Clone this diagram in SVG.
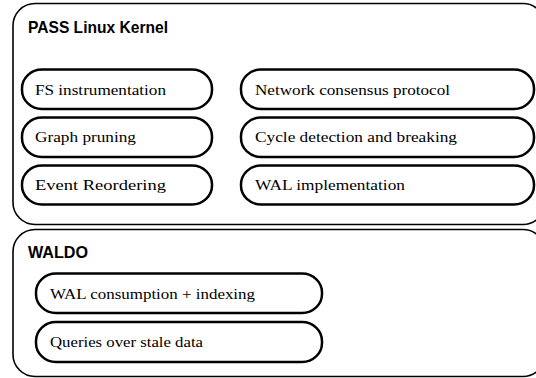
<svg xmlns="http://www.w3.org/2000/svg" width="536" height="378" viewBox="0 0 536 378">
<style>
.box{fill:#fff;stroke:#000;stroke-width:1.6}
.pill{fill:#fff;stroke:#000;stroke-width:2.5}
.title{font-family:"Liberation Sans",Arial,sans-serif;font-weight:bold;font-size:17px;fill:#000}
.lbl{font-family:"Liberation Serif","Times New Roman",serif;font-size:15px;fill:#000}
</style>
<rect width="536" height="378" fill="#fff"/>
<g id="kernel">
<rect class="box" x="13" y="3.5" width="532" height="221" rx="22" ry="22"/>
<text class="title" x="28" y="32.5" textLength="140" lengthAdjust="spacingAndGlyphs">PASS Linux Kernel</text>
</g>
<g id="fs-instrumentation">
<rect class="pill" x="22" y="69.5" width="190" height="39.5" rx="20" ry="19"/>
<text class="lbl" x="35" y="95" textLength="131" lengthAdjust="spacingAndGlyphs">FS instrumentation</text>
</g>
<g id="graph-pruning">
<rect class="pill" x="22" y="117.5" width="190" height="39.5" rx="20" ry="19"/>
<text class="lbl" x="35" y="142" textLength="101" lengthAdjust="spacingAndGlyphs">Graph pruning</text>
</g>
<g id="event-reordering">
<rect class="pill" x="22" y="165.5" width="190" height="39" rx="20" ry="19"/>
<text class="lbl" x="35" y="190" textLength="131" lengthAdjust="spacingAndGlyphs">Event Reordering</text>
</g>
<g id="network-consensus">
<rect class="pill" x="241" y="69.5" width="293" height="39.5" rx="20" ry="19"/>
<text class="lbl" x="255" y="95" textLength="195" lengthAdjust="spacingAndGlyphs">Network consensus protocol</text>
</g>
<g id="cycle-detection">
<rect class="pill" x="241" y="117.5" width="293" height="39.5" rx="20" ry="19"/>
<text class="lbl" x="255" y="142" textLength="202" lengthAdjust="spacingAndGlyphs">Cycle detection and breaking</text>
</g>
<g id="wal-implementation">
<rect class="pill" x="241" y="165.5" width="293" height="39" rx="20" ry="19"/>
<text class="lbl" x="255" y="190" textLength="150" lengthAdjust="spacingAndGlyphs">WAL implementation</text>
</g>
<g id="waldo">
<rect class="box" x="13" y="229.5" width="532" height="147" rx="22" ry="22"/>
<text class="title" x="28" y="258" textLength="60" lengthAdjust="spacingAndGlyphs">WALDO</text>
</g>
<g id="wal-consumption">
<rect class="pill" x="36" y="273.5" width="286" height="39.5" rx="20" ry="19"/>
<text class="lbl" x="50" y="299" textLength="205" lengthAdjust="spacingAndGlyphs">WAL consumption + indexing</text>
</g>
<g id="queries-stale">
<rect class="pill" x="36" y="322" width="286" height="40" rx="20" ry="19"/>
<text class="lbl" x="50" y="347" textLength="153" lengthAdjust="spacingAndGlyphs">Queries over stale data</text>
</g>
<g id="connectors"></g>
</svg>
